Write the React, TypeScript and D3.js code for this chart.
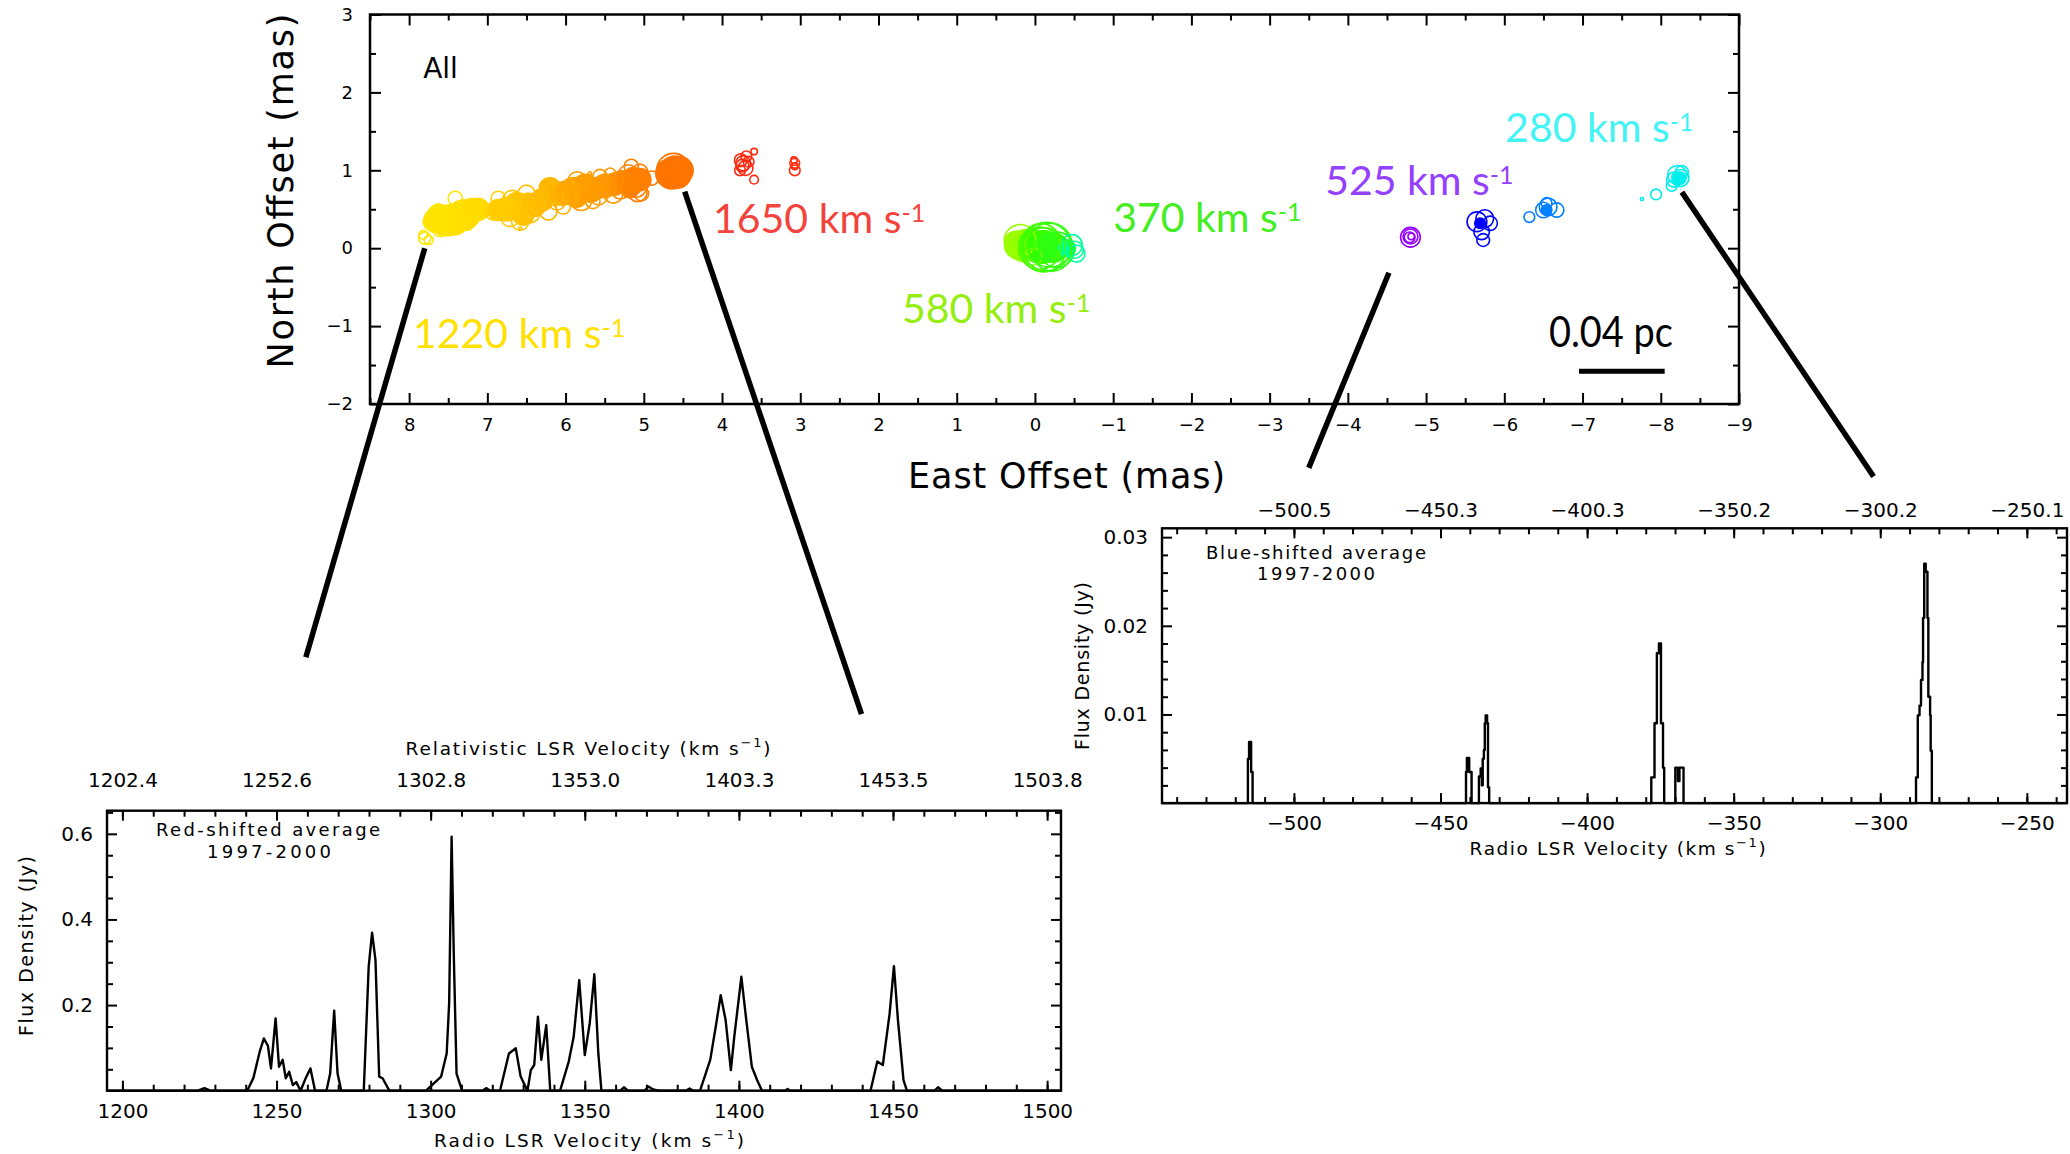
import React, { useRef, useEffect } from "react";
import * as d3 from "d3";

const W = 2070;
const H = 1154;
const TICK_FONT = "DejaVu Sans, Liberation Sans, sans-serif";
const LABEL_FONT = "Lato, Open Sans, sans-serif";

// maser spots: east offset (mas), north offset (mas), peak flux (Jy), LSR velocity (km/s)
const solidSpots: number[][] = [
  [7.65, 0.36, 0.0745, 1242], [7.48, 0.4, 0.0745, 1244], [7.33, 0.45, 0.082, 1246],
  [7.2, 0.49, 0.059, 1248], [7.56, 0.3, 0.042, 1243], [7.42, 0.32, 0.06, 1244],
  [7.28, 0.38, 0.06, 1247], [7.62, 0.42, 0.05, 1243], [7.12, 0.5, 0.05, 1250],
  [6.86, 0.49, 0.042, 1262], [6.62, 0.555, 0.0745, 1268], [6.54, 0.43, 0.042, 1270],
  [6.48, 0.6, 0.022, 1272], [6.2, 0.77, 0.042, 1285], [6.75, 0.5, 0.06, 1265],
  [6.4, 0.55, 0.05, 1276], [6.3, 0.62, 0.05, 1280], [6.05, 0.7, 0.06, 1292],
  [5.9, 0.75, 0.0745, 1305], [5.75, 0.79, 0.0745, 1312], [5.6, 0.77, 0.042, 1320],
  [5.86, 0.66, 0.042, 1308], [5.95, 0.72, 0.0745, 1302], [5.68, 0.74, 0.06, 1315],
  [5.5, 0.8, 0.06, 1325], [5.38, 0.82, 0.05, 1335], [5.28, 0.85, 0.05, 1370],
  [5.13, 0.9, 0.042, 1395], [5.18, 0.77, 0.03, 1390], [5.05, 0.88, 0.05, 1400],
  [5.15, 0.83, 0.05, 1392],
  [4.6, 0.98, 0.222, 1450], [4.54, 1.0, 0.104, 1452], [4.66, 0.96, 0.15, 1448],
  [0.21, 0.04, 0.126, 1100], [0.11, 0.06, 0.126, 1095], [0.25, 0.08, 0.042, 1105],
  [0.15, 0.0, 0.1, 1098], [0.02, 0.05, 0.15, 1070],
  [-0.11, 0.02, 0.222, 1050], [-0.23, 0.0, 0.126, 1040], [-0.41, 0.0, 0.022, 960],
  [-5.69, 0.32, 0.0081, -440], [-6.54, 0.49, 0.0081, -375], [-8.24, 0.9, 0.0113, -285],
];

const ringSpots: number[][] = [
  [7.41, 0.64, 0.0142, 1240], [7.8, 0.13, 0.0102, 1236], [7.75, 0.105, 0.0064, 1236],
  [7.82, 0.17, 0.0058, 1235], [7.71, 0.34, 0.023, 1240], [7.6, 0.26, 0.022, 1241],
  [7.37, 0.3, 0.022, 1245], [7.22, 0.4, 0.03, 1248], [7.14, 0.47, 0.0157, 1250],
  [7.63, 0.55, 0.0025, 1242], [7.5, 0.28, 0.03, 1244], [7.3, 0.5, 0.03, 1247],
  [6.86, 0.64, 0.0142, 1258], [6.92, 0.47, 0.022, 1260], [6.71, 0.4, 0.03, 1265],
  [6.5, 0.7, 0.022, 1272], [6.58, 0.34, 0.022, 1270], [6.37, 0.53, 0.022, 1278],
  [6.24, 0.79, 0.0142, 1282], [6.22, 0.47, 0.022, 1283], [6.11, 0.6, 0.022, 1288],
  [6.31, 0.64, 0.0142, 1280], [6.03, 0.53, 0.0142, 1292], [6.58, 0.25, 0.0025, 1270],
  [6.68, 0.62, 0.03, 1266], [6.45, 0.45, 0.03, 1274], [6.15, 0.68, 0.03, 1286],
  [5.99, 0.68, 0.022, 1300], [5.8, 0.62, 0.042, 1310], [5.56, 0.92, 0.0142, 1322],
  [5.47, 0.79, 0.022, 1328], [5.43, 0.96, 0.0081, 1330], [5.39, 0.7, 0.03, 1335],
  [5.65, 0.6, 0.0142, 1318], [5.35, 0.88, 0.0142, 1340], [5.69, 0.96, 0.0025, 1316],
  [5.85, 0.86, 0.03, 1306], [5.58, 0.68, 0.03, 1320], [5.3, 0.74, 0.022, 1360],
  [5.16, 1.05, 0.0142, 1390], [5.05, 0.98, 0.0173, 1400], [5.1, 0.79, 0.042, 1395],
  [5.22, 0.85, 0.022, 1385], [5.03, 0.7, 0.0142, 1400], [4.9, 0.9, 0.0142, 1410],
  [5.2, 0.95, 0.03, 1388], [5.08, 0.72, 0.03, 1398],
  [4.62, 1.0, 0.309, 1448], [4.58, 0.96, 0.16, 1450], [4.64, 0.94, 0.126, 1446],
  [3.73, 1.09, 0.0157, 1650], [3.76, 1.13, 0.0113, 1648], [3.7, 1.03, 0.0157, 1652],
  [3.69, 1.18, 0.0081, 1650], [3.77, 1.0, 0.0081, 1651], [3.66, 1.11, 0.0081, 1649],
  [3.59, 1.24, 0.0042, 1650], [3.59, 0.88, 0.0058, 1650], [3.74, 1.06, 0.0113, 1650],
  [3.07, 1.0, 0.0081, 1640], [3.07, 1.09, 0.0069, 1640], [3.08, 1.13, 0.0042, 1640],
  [3.07, 1.05, 0.0042, 1640],
  [0.19, 0.1, 0.222, 1100], [0.02, -0.11, 0.022, 1090], [-0.15, 0.02, 3.14, 1050],
  [-0.11, -0.02, 1.62, 1055], [-0.19, 0.04, 1.62, 1045], [-0.06, 0.0, 1.16, 1060],
  [-0.28, -0.02, 0.39, 1035], [-0.51, -0.02, 0.022, 950], [-0.47, 0.04, 0.042, 955],
  [-0.53, -0.07, 0.022, 948], [-0.08, 0.06, 0.8, 1058], [-0.22, -0.05, 0.6, 1042],
  [-4.8, 0.14, 0.0337, -516], [-4.8, 0.15, 0.0157, -516], [-4.79, 0.14, 0.0081, -516],
  [-4.81, 0.15, 0.0042, -516],
  [-5.65, 0.34, 0.0337, -442], [-5.75, 0.38, 0.0242, -440], [-5.71, 0.21, 0.0173, -438],
  [-5.73, 0.105, 0.0113, -437], [-5.82, 0.32, 0.0142, -436],
  [-6.32, 0.4, 0.0081, -378], [-6.5, 0.49, 0.0173, -376], [-6.56, 0.53, 0.0242, -375],
  [-6.67, 0.49, 0.0142, -374], [-6.54, 0.58, 0.0081, -375],
  [-7.76, 0.63, 0.0025, -288], [-7.94, 0.69, 0.0081, -287], [-8.21, 0.94, 0.03, -285],
  [-8.25, 0.9, 0.022, -285], [-8.17, 0.88, 0.0157, -286], [-8.27, 0.98, 0.0113, -284],
  [-8.14, 0.8, 0.0081, -286],
];

// rainbow by velocity
const velocityStops = [-516, -440, -375, -285, 950, 1050, 1100, 1240, 1270, 1310, 1395, 1450, 1650];
const velocityColours = [
  "#9400ff", "#0000ff", "#0080ff", "#00eeee", "#00ffa0", "#33ff00", "#99ff00",
  "#ffe600", "#ffc400", "#ff9f00", "#ff8000", "#ff7400", "#ff2a10",
];

// group labels on the map
const groupLabels = ["1220", "1650", "580", "370", "525", "280"];
const groupLabelEast = [7.95, 4.115, 1.7, -1.0, -3.71, -6.01];
const groupLabelNorth = [-1.28, 0.195, -0.96, 0.21, 0.685, 1.36];
const groupLabelColours = ["#ffe100", "#f2443c", "#96ee10", "#44ee22", "#9440ff", "#44f4f4"];

// lines from the map to the spectra: east0, north0, east1, north1 (mas)
const connectors = [
  [7.8, 0.0, 9.32, -5.25],
  [4.477, 0.725, 2.217, -5.98],
  [-4.525, -0.315, -3.5, -2.82],
  [-8.27, 0.72, -10.72, -2.93],
];

const scaleBarEast = [-6.955, -8.05];
const scaleBarNorth = -1.58;

// red-shifted average spectrum: radio LSR velocity (km/s), flux density (Jy)
const redSpectrum: [number, number][] = [
  [1195, 0], [1224.5, 0], [1226.6, 0.006], [1228.5, 0],
  [1240.5, 0], [1242.5, 0.03], [1244.5, 0.09], [1245.9, 0.122], [1247.2, 0.105], [1248.2, 0.052],
  [1249.7, 0.169], [1250.8, 0.056], [1252, 0.072], [1253, 0.029], [1254.1, 0.044], [1255.3, 0.013],
  [1256.4, 0.02], [1257.8, 0], [1259.5, 0.03], [1261, 0.052], [1262.5, 0],
  [1266.2, 0], [1267.4, 0.04], [1268.7, 0.187], [1269.8, 0.04], [1271, 0],
  [1278.3, 0], [1279.9, 0.29], [1281, 0.369], [1282.1, 0.305], [1283.3, 0.033], [1284.4, 0.029], [1286.6, 0],
  [1298.5, 0], [1303.4, 0.033], [1305.2, 0.087], [1306, 0.204], [1306.8, 0.593], [1307.5, 0.32],
  [1308.4, 0.04], [1310.2, 0],
  [1316.8, 0], [1318, 0.006], [1319.3, 0],
  [1322.5, 0], [1325.4, 0.087], [1327.6, 0.099], [1329.2, 0.033], [1331.4, 0], [1332.5, 0.048],
  [1333.6, 0.06], [1334.8, 0.173], [1335.9, 0.072], [1337.5, 0.153], [1338.8, 0],
  [1342, 0], [1344.8, 0.068], [1346.4, 0.126], [1348.2, 0.258], [1350, 0.083], [1351.6, 0.157],
  [1353.1, 0.272], [1354.4, 0.087], [1355.4, 0],
  [1361.5, 0], [1362.7, 0.008], [1364, 0], [1369.4, 0], [1370.6, 0.01], [1372.2, 0.003], [1374, 0],
  [1382.8, 0], [1384, 0.005], [1385.2, 0],
  [1387.4, 0], [1390.7, 0.072], [1392.5, 0.15], [1394.1, 0.223], [1395.7, 0.165], [1397.4, 0.048],
  [1398.5, 0.126], [1400.8, 0.266], [1402.4, 0.165], [1404.2, 0.056], [1405.9, 0.025], [1407.5, 0],
  [1415, 0], [1415.8, 0.004], [1416.6, 0],
  [1442.7, 0], [1444.9, 0.068], [1446.7, 0.06], [1448.9, 0.18], [1450.3, 0.291], [1451.6, 0.165],
  [1453.4, 0.025], [1454.5, 0],
  [1463.5, 0], [1464.6, 0.008], [1466, 0], [1504.5, 0],
];
const redBottomTicks = [1200, 1250, 1300, 1350, 1400, 1450, 1500];
const redTopLabels = ["1202.4", "1252.6", "1302.8", "1353.0", "1403.3", "1453.5", "1503.8"];
const redFluxTicks = [0.2, 0.4, 0.6];

// blue-shifted average spectrum (channel starts): velocity (km/s), flux density (Jy)
const blueSpectrum: [number, number][] = [
  [-545, 0],
  [-515.7, 0.005], [-515.3, 0.0069], [-514.6, 0.0035], [-514.1, 0],
  [-441.3, 0.0035], [-441.0, 0.0051], [-440.2, 0.0035], [-439.4, 0],
  [-436.9, 0.003], [-436.3, 0.0039], [-435.9, 0.002], [-435.6, 0.005], [-435.2, 0.006],
  [-434.9, 0.009], [-434.6, 0.0099], [-434.1, 0.009], [-433.8, 0.0018], [-433.4, 0],
  [-378.1, 0.0029], [-377.0, 0.009], [-376.2, 0.0169], [-375.5, 0.018], [-374.8, 0.009],
  [-374.1, 0.004], [-373.7, 0],
  [-369.9, 0.004], [-369.0, 0.0025], [-368.5, 0.004], [-367.1, 0],
  [-287.8, 0.0029], [-287.2, 0.0099], [-286.6, 0.011], [-286.1, 0.0139], [-285.6, 0.0159],
  [-285.4, 0.0209], [-285.0, 0.027], [-284.5, 0.0261], [-283.9, 0.0209], [-283.6, 0.012],
  [-283.0, 0.0099], [-282.8, 0.0059], [-282.4, 0],
  [-236.3, 0],
];
const blueBottomTicks = [-500, -450, -400, -350, -300, -250];
const blueTopLabels = ["\u2212500.5", "\u2212450.3", "\u2212400.3", "\u2212350.2", "\u2212300.2", "\u2212250.1"];
const blueFluxTicks = [0.01, 0.02, 0.03];

type Sel = d3.Selection<SVGGElement, unknown, null, undefined>;

function frame(g: Sel, x: any, y: any, o: any) {
  const [xl, xr] = x.range();
  const [yb, yt] = y.range();
  const blank = () => "";
  const add = (axis: any, tx: number, ty: number) => {
    const a = g.append("g").attr("transform", `translate(${tx},${ty})`).call(axis);
    a.select(".domain").remove();
    a.selectAll("line").attr("stroke-width", 2);
    a.attr("font-family", TICK_FONT).attr("font-size", o.fontSize);
    return a;
  };
  add(d3.axisBottom(x).tickValues(o.xMajor).tickSize(-o.major).tickPadding(o.bottomPad).tickFormat(o.bottomFmt), 0, yb);
  add(d3.axisBottom(x).tickValues(o.xMinor).tickSize(-o.minor).tickFormat(blank), 0, yb);
  add(d3.axisTop(x).tickValues(o.xMajor).tickSize(-o.major).tickPadding(o.topPad || 0).tickFormat(o.topFmt || blank), 0, yt);
  add(d3.axisTop(x).tickValues(o.xMinor).tickSize(-o.minor).tickFormat(blank), 0, yt);
  add(d3.axisLeft(y).tickValues(o.yMajor).tickSize(-o.major).tickPadding(o.leftPad).tickFormat(o.leftFmt), xl, 0);
  add(d3.axisLeft(y).tickValues(o.yMinor).tickSize(-o.minor).tickFormat(blank), xl, 0);
  add(d3.axisRight(y).tickValues(o.yMajor).tickSize(-o.major).tickFormat(blank), xr, 0);
  add(d3.axisRight(y).tickValues(o.yMinor).tickSize(-o.minor).tickFormat(blank), xr, 0);
  g.append("rect")
    .attr("x", xl).attr("y", yt).attr("width", xr - xl).attr("height", yb - yt)
    .attr("fill", "none").attr("stroke", "#000").attr("stroke-width", o.frameW);
}

// text with a "-1" superscript piece, optionally rotated
function titleText(g: Sel, x: number, y: number, main: string, sup: string, tail: string, o: any) {
  const t = g.append("text")
    .attr("transform", `translate(${x},${y})${o.rotate ? " rotate(-90)" : ""}`)
    .attr("text-anchor", o.anchor || "middle")
    .attr("font-family", o.font || TICK_FONT)
    .attr("font-size", o.size)
    .attr("fill", o.fill || "#000");
  t.append("tspan").text(main);
  if (sup) {
    t.append("tspan").attr("font-size", o.supSize).attr("dy", -o.supRise).text(sup);
    if (tail) t.append("tspan").attr("dy", o.supRise).text(tail);
  }
  if (o.length) t.attr("textLength", o.length).attr("lengthAdjust", "spacing");
  return t;
}

function drawMap(g: Sel) {
  const x = d3.scaleLinear().domain([8.5, -9]).range([370, 1739]);
  const y = d3.scaleLinear().domain([-2, 3]).range([404, 14.5]);
  const r = d3.scaleLog().domain([0.003, 0.6]).range([2.2, 19]);
  const colour = d3.scaleLinear<string>().domain(velocityStops).range(velocityColours).interpolate(d3.interpolateRgb);

  g.append("g").selectAll("circle").data(solidSpots).join("circle")
    .attr("cx", (d) => x(d[0])).attr("cy", (d) => y(d[1])).attr("r", (d) => r(d[2]))
    .attr("fill", (d) => colour(d[3])).attr("stroke", (d) => colour(d[3])).attr("stroke-width", 1.5);
  g.append("g").selectAll("circle").data(ringSpots).join("circle")
    .attr("cx", (d) => x(d[0])).attr("cy", (d) => y(d[1])).attr("r", (d) => r(d[2]))
    .attr("fill", "none").attr("stroke", (d) => colour(d[3])).attr("stroke-width", 1.6);

  frame(g, x, y, {
    fontSize: 18, major: 11, minor: 6, frameW: 2.5,
    xMajor: d3.range(-9, 9), xMinor: d3.range(-8.5, 8.6, 1),
    yMajor: d3.range(-2, 4), yMinor: d3.range(-1.5, 3, 1),
    bottomPad: 14, leftPad: 17,
    bottomFmt: d3.format("d"), leftFmt: d3.format("d"),
  });

  g.append("text").attr("x", x(7.82)).attr("y", y(2.18))
    .attr("font-family", TICK_FONT).attr("font-size", 28).text("All");

  groupLabels.forEach((lab, i) => {
    titleText(g, x(groupLabelEast[i]), y(groupLabelNorth[i]), `${lab} km s`, "-1", "", {
      anchor: "start", font: LABEL_FONT, size: 41, supSize: 25, supRise: 11, fill: groupLabelColours[i],
    });
  });

  // scale bar
  g.append("text").attr("x", x(-6.57)).attr("y", y(-1.27))
    .attr("font-family", LABEL_FONT).attr("font-size", 42)
    .attr("textLength", 124).attr("lengthAdjust", "spacingAndGlyphs").text("0.04 pc");
  g.append("line")
    .attr("x1", x(scaleBarEast[0])).attr("x2", x(scaleBarEast[1]))
    .attr("y1", y(scaleBarNorth)).attr("y2", y(scaleBarNorth))
    .attr("stroke", "#000").attr("stroke-width", 5);

  g.append("g").selectAll("line").data(connectors).join("line")
    .attr("x1", (d) => x(d[0])).attr("y1", (d) => y(d[1]))
    .attr("x2", (d) => x(d[2])).attr("y2", (d) => y(d[3]))
    .attr("stroke", "#000").attr("stroke-width", 5.5);

  titleText(g, 293, 191, "North Offset (mas)", "", "", { size: 35, rotate: true, length: 355 });
  titleText(g, 1066.6, 488, "East Offset (mas)", "", "", { size: 35, length: 317 });
}

function drawSpectrum(g: Sel, s: any) {
  const x = d3.scaleLinear().domain(s.xDomain).range(s.xRange);
  const y = d3.scaleLinear().domain(s.yDomain).range(s.yRange);
  const line = d3.line<[number, number]>().x((d) => x(d[0])).y((d) => y(d[1])).curve(s.curve);
  g.append("path").attr("d", line(s.data)).attr("fill", "none")
    .attr("stroke", "#000").attr("stroke-width", 2.4).attr("stroke-linejoin", "round");

  const minorY = d3.range(s.minorStep, s.yDomain[1], s.minorStep).filter(
    (v: number) => !s.fluxTicks.some((m: number) => Math.abs(m - v) < 1e-9)
  );
  frame(g, x, y, {
    fontSize: 20, major: 10, minor: 6, frameW: 2.4,
    xMajor: s.bottomTicks, xMinor: d3.range(s.bottomTicks[0] - 40, s.xDomain[1], 10).filter((v: number) => v > s.xDomain[0]),
    yMajor: s.fluxTicks, yMinor: minorY,
    bottomPad: 13, leftPad: 14, topPad: s.topPad,
    bottomFmt: d3.format("d"), leftFmt: d3.format(s.fluxFormat),
    topFmt: (_d: any, i: number) => s.topLabels[i],
  });

  g.append("text").attr("x", s.note[0]).attr("y", s.note[1])
    .attr("font-family", TICK_FONT).attr("font-size", 18)
    .attr("textLength", s.note[2]).attr("lengthAdjust", "spacing").text(s.noteText);
  g.append("text").attr("x", s.years[0]).attr("y", s.years[1])
    .attr("font-family", TICK_FONT).attr("font-size", 18)
    .attr("textLength", s.years[2]).attr("lengthAdjust", "spacing").text("1997-2000");

  const sup = { size: 18.5, supSize: 13, supRise: 8 };
  titleText(g, s.xTitle[0], s.xTitle[1], "Radio LSR Velocity (km s", "\u22121", ")", { ...sup, length: s.xTitle[2] });
  if (s.topTitle) {
    titleText(g, s.topTitle[0], s.topTitle[1], "Relativistic LSR Velocity (km s", "\u22121", ")", { ...sup, length: s.topTitle[2] });
  }
  titleText(g, s.yTitle[0], s.yTitle[1], "Flux Density (Jy)", "", "", { size: 19, rotate: true, length: s.yTitle[2] });
}

export default function App() {
  const ref = useRef<SVGSVGElement>(null);
  useEffect(() => {
    const svg = d3.select(ref.current as SVGSVGElement);
    svg.selectAll("*").remove();
    drawMap(svg.append("g") as Sel);
    drawSpectrum(svg.append("g") as Sel, {
      data: redSpectrum, curve: d3.curveLinear,
      xDomain: [1195, 1504.5], xRange: [107, 1061],
      yDomain: [0, 0.654], yRange: [1090.7, 810.7],
      bottomTicks: redBottomTicks, topLabels: redTopLabels, topPad: 24,
      fluxTicks: redFluxTicks, minorStep: 0.05, fluxFormat: ".1f",
      noteText: "Red-shifted average", note: [156, 836, 224], years: [207, 858, 124],
      xTitle: [589, 1147, 310], topTitle: [588, 755, 365], yTitle: [33, 946, 180],
    });
    drawSpectrum(svg.append("g") as Sel, {
      data: blueSpectrum, curve: d3.curveStepAfter,
      xDomain: [-545, -236.3], xRange: [1162, 2067],
      yDomain: [0, 0.031], yRange: [803.1, 528.3],
      bottomTicks: blueBottomTicks, topLabels: blueTopLabels, topPad: 11.6,
      fluxTicks: blueFluxTicks, minorStep: 0.002, fluxFormat: ".2f",
      noteText: "Blue-shifted average", note: [1206, 559, 220], years: [1257, 580, 118],
      xTitle: [1617.6, 855, 296], topTitle: null, yTitle: [1089, 666, 168],
    });
  }, []);
  return (
    <svg ref={ref} width={W} height={H}
      style={{ position: "absolute", left: 0, top: 0, background: "#fff" }} />
  );
}
